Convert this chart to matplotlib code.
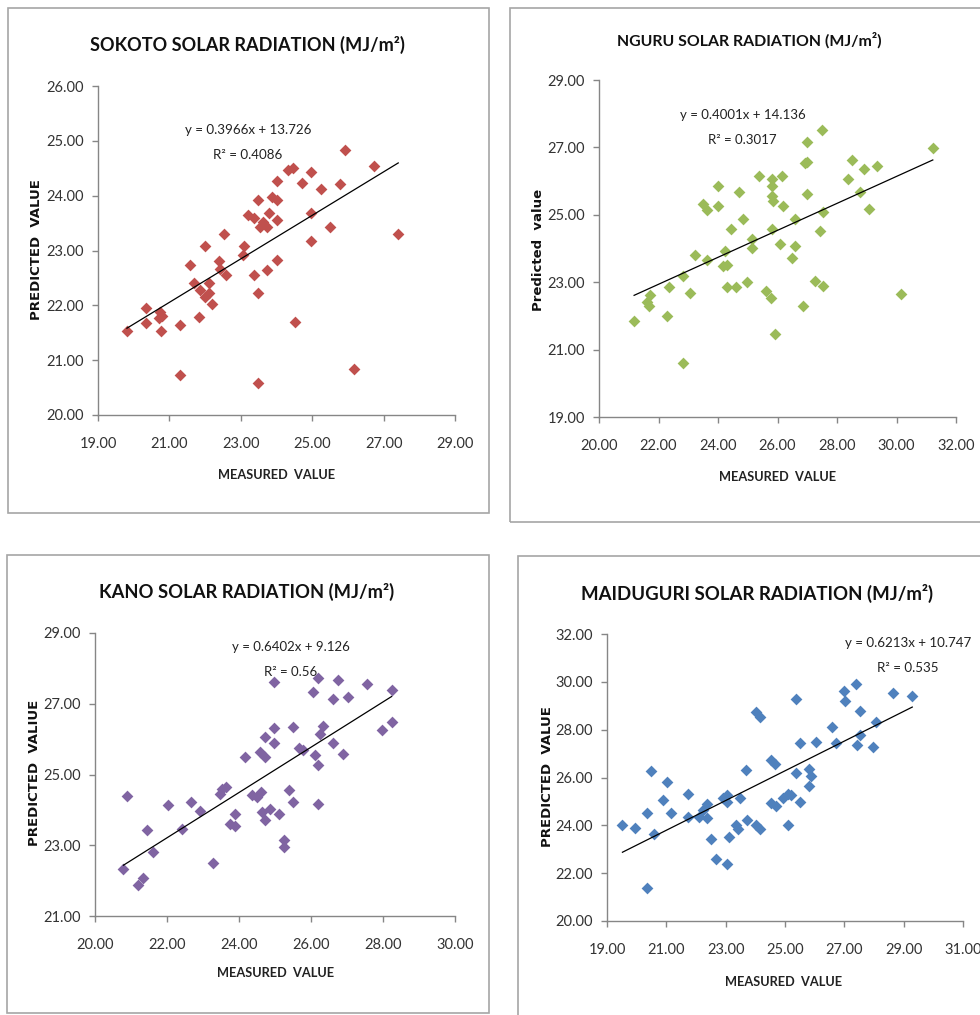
import matplotlib
matplotlib.use("Agg")
import matplotlib.pyplot as plt
import numpy as np
from matplotlib.patches import Rectangle

W, H = 980, 1015

# ===== Données =====
sokoto_x = [19.81, 20.34, 20.34, 20.74, 20.71, 20.77, 20.80, 21.30, 21.30, 21.58,
            21.83, 21.70, 21.86, 22.00, 22.00, 22.12, 22.12, 22.20, 22.40, 22.42,
            22.53, 22.58, 23.08, 23.06, 23.19, 23.36, 23.36, 23.47, 23.47, 23.47,
            23.53, 23.62, 23.73, 23.78, 23.73, 23.87, 24.00, 24.02, 24.00, 24.00,
            24.31, 24.46, 24.52, 24.71, 24.97, 24.97, 24.97, 25.24, 25.50, 25.78,
            25.92, 26.18, 26.73, 27.41]
sokoto_y = [21.53, 21.96, 21.67, 21.87, 21.76, 21.54, 21.80, 21.64, 20.73, 22.74,
            21.78, 22.40, 22.28, 23.08, 22.16, 22.40, 22.22, 22.02, 22.80, 22.67,
            23.31, 22.55, 23.08, 22.92, 23.65, 23.59, 22.55, 23.92, 22.22, 20.59,
            23.43, 23.52, 22.64, 23.68, 23.43, 23.98, 24.26, 23.92, 23.56, 22.83,
            24.47, 24.50, 21.70, 24.24, 24.44, 23.68, 23.17, 24.12, 23.42, 24.21,
            24.83, 20.83, 24.54, 23.31]

nguru_x = [21.18, 21.60, 21.71, 21.69, 22.27, 22.36, 22.81, 22.81, 23.06, 23.23,
           23.51, 23.62, 23.64, 24.01, 24.01, 24.18, 24.24, 24.29, 24.29, 24.43,
           24.61, 24.72, 24.85, 24.96, 25.13, 25.13, 25.39, 25.63, 25.77, 25.80,
           25.80, 25.80, 25.86, 25.80, 25.92, 26.08, 26.14, 26.20, 26.48, 26.59,
           26.59, 26.87, 26.92, 27.00, 27.00, 27.00, 27.26, 27.48, 27.43, 27.54,
           27.54, 28.36, 28.49, 28.77, 28.91, 29.06, 29.34, 30.14, 31.22]
nguru_y = [21.86, 22.40, 22.63, 22.30, 22.00, 22.87, 23.19, 20.60, 22.68, 23.82,
           25.33, 25.13, 23.67, 25.85, 25.25, 23.47, 23.92, 23.52, 22.87, 24.57,
           22.87, 25.67, 24.88, 23.02, 24.27, 24.02, 26.16, 22.75, 22.52, 26.05,
           25.85, 25.55, 25.40, 24.57, 21.45, 24.12, 26.16, 25.25, 23.72, 24.07,
           24.88, 22.30, 26.55, 26.58, 27.17, 25.63, 23.05, 27.52, 24.52, 25.07,
           22.89, 26.06, 26.64, 25.67, 26.35, 25.17, 26.45, 22.66, 26.97]

kano_x = [20.79, 20.90, 21.20, 21.32, 21.44, 21.60, 22.02, 22.42, 22.66, 22.92,
          23.29, 23.47, 23.52, 23.64, 23.75, 23.89, 23.89, 24.17, 24.35, 24.49,
          24.60, 24.58, 24.72, 24.72, 24.63, 24.72, 24.86, 24.98, 24.98, 24.98,
          25.12, 25.26, 25.26, 25.40, 25.51, 25.51, 25.68, 25.79, 26.06, 26.11,
          26.20, 26.20, 26.20, 26.25, 26.34, 26.60, 26.60, 26.76, 26.88, 27.04,
          27.55, 27.96, 28.24, 28.24]
kano_y = [22.34, 24.38, 21.87, 22.08, 23.44, 22.81, 24.14, 23.47, 24.22, 23.98,
          22.50, 24.46, 24.60, 24.66, 23.61, 23.54, 23.89, 25.49, 24.43, 24.36,
          24.50, 25.64, 26.06, 25.49, 23.93, 23.70, 24.03, 27.61, 26.32, 25.89,
          23.89, 23.14, 22.95, 24.55, 26.34, 24.22, 25.76, 25.68, 27.33, 25.54,
          25.26, 24.16, 27.74, 26.14, 26.38, 27.14, 25.89, 27.68, 25.58, 27.19,
          27.55, 26.27, 27.38, 26.48]

maid_x = [19.52, 19.93, 20.36, 20.36, 20.49, 20.58, 20.89, 21.03, 21.17, 21.73,
          21.73, 22.10, 22.24, 22.37, 22.37, 22.52, 22.69, 22.91, 23.04, 23.04,
          23.04, 23.11, 23.34, 23.42, 23.47, 23.70, 23.73, 24.01, 24.15, 24.01,
          24.17, 24.52, 24.65, 24.52, 24.69, 24.93, 25.10, 25.10, 25.21, 25.36,
          25.36, 25.49, 25.49, 25.81, 25.81, 25.89, 26.06, 26.57, 26.73, 26.98,
          27.01, 27.38, 27.43, 27.52, 27.52, 27.97, 28.08, 28.64, 29.29]
maid_y = [24.01, 23.90, 24.50, 21.36, 26.27, 23.63, 25.08, 25.82, 24.53, 25.30,
          24.36, 24.36, 24.64, 24.88, 24.29, 23.41, 22.61, 25.13, 25.27, 24.99,
          22.37, 23.52, 24.01, 23.83, 25.13, 26.31, 24.22, 28.72, 28.55, 24.01,
          23.83, 26.72, 26.58, 24.92, 24.81, 25.13, 25.31, 24.01, 25.27, 29.28,
          26.20, 27.43, 24.99, 26.34, 25.64, 26.06, 27.50, 28.13, 27.43, 29.60,
          29.18, 29.92, 27.36, 28.76, 27.78, 27.29, 28.34, 29.53, 29.39]

# droites de tendance (Excel)
pentes = [0.3966, 0.4001, 0.6402, 0.6213]
ordonnees = [13.726, 14.136, 9.126, 10.747]
r2 = ["0.4086", "0.3017", "0.56", "0.535"]

villes = ["SOKOTO", "NGURU", "KANO", "MAIDUGURI"]
couleurs = ["#C0504D", "#9BBB59", "#8064A2", "#4F81BD"]
ylabels = ["PREDICTED  VALUE", "Predicted  value", "PREDICTED  VALIUE", "PREDICTED  VALUE"]

x_lims = [(19, 29), (20, 32), (20, 30), (19, 31)]
y_lims = [(20, 26), (19, 29), (21, 29), (20, 32)]
y_pas = [1, 2, 2, 2]

# ===== Mise en page (pixels) =====
axes_px = [(98, 455, 86, 415), (599, 956, 80, 417), (95, 455, 633, 916), (607, 963, 634, 921)]
cadres_px = [(8, 8, 489, 513), (510, 8, 990, 522), (7, 555, 489, 1013), (518, 556, 990, 1025)]
titres_px = [(247, 45, 315), (749, 40, 265), (247, 592, 295), (757, 593, 352)]
eq_data = [(23.2, 25.20, 24.74), (24.82, 27.96, 27.22), (25.44, 28.6, 27.9), (29.15, 31.62, 30.58)]
eq_larg = [127, 125, 118, 127]
xlab_px = [(277, 475), (778, 477), (276, 973), (784, 982)]
ylab_px = [(37, 250), (538, 250), (35, 773), (547, 777)]

police = ["Lato", "DejaVu Sans"]


def fx(x):
    return x / W


def fy(y):
    return 1 - y / H


fig = plt.figure(figsize=(W / 100, H / 100), dpi=100)
renderer = fig.canvas.get_renderer()


def ajuster(txt, largeur):
    # met la taille de police pour obtenir la largeur voulue (pixels)
    bb = txt.get_window_extent(renderer)
    txt.set_fontsize(txt.get_fontsize() * largeur / bb.width)


donnees = [(sokoto_x, sokoto_y), (nguru_x, nguru_y), (kano_x, kano_y), (maid_x, maid_y)]

for i, (xs, ys) in enumerate(donnees):
    # cadre gris autour de chaque graphique
    x0, y0, x1, y1 = cadres_px[i]
    fig.patches.append(Rectangle((fx(x0), fy(y1)), (x1 - x0) / W, (y1 - y0) / H,
                                 transform=fig.transFigure, fill=False,
                                 edgecolor="#A6A6A6", linewidth=1.2))

    l, r, t, b = axes_px[i]
    ax = fig.add_axes([fx(l), fy(b), (r - l) / W, (b - t) / H])

    ax.scatter(xs, ys, marker="D", s=36, color=couleurs[i], linewidths=0, zorder=3)

    xt = np.array([min(xs), max(xs)])
    ax.plot(xt, pentes[i] * xt + ordonnees[i], color="black", linewidth=0.9, zorder=4)

    ex, ey, er = eq_data[i]
    eq = ax.text(ex, ey, f"y = {pentes[i]}x + {ordonnees[i]}", ha="center", va="center",
                 fontsize=10, family=police, color="#222222", zorder=5)
    ajuster(eq, eq_larg[i])
    ax.text(ex, er, f"R² = {r2[i]}", ha="center", va="center",
            fontsize=eq.get_fontsize(), family=police, color="#222222", zorder=5)

    ax.set_xlim(*x_lims[i])
    ax.set_ylim(*y_lims[i])
    ax.set_xticks(np.arange(x_lims[i][0], x_lims[i][1] + 0.1, 2))
    ax.set_yticks(np.arange(y_lims[i][0], y_lims[i][1] + 0.1, y_pas[i]))
    ax.xaxis.set_major_formatter(matplotlib.ticker.FormatStrFormatter("%.2f"))
    ax.yaxis.set_major_formatter(matplotlib.ticker.FormatStrFormatter("%.2f"))

    for s in ["top", "right"]:
        ax.spines[s].set_visible(False)
    for s in ["left", "bottom"]:
        ax.spines[s].set_color("#868686")
        ax.spines[s].set_linewidth(1.0)
    ax.tick_params(axis="both", direction="out", length=4, width=1, color="#868686",
                   labelcolor="#333333", labelsize=10.5)
    ax.tick_params(axis="x", pad=12)
    ax.tick_params(axis="y", pad=6)
    for lab in ax.get_xticklabels() + ax.get_yticklabels():
        lab.set_family(police)

    xl = ax.set_xlabel("MEASURED  VALUE", fontsize=10, family=police, fontweight="bold",
                       color="#222222", va="center")
    ajuster(xl, 117)
    ax.xaxis.set_label_coords(fx(xlab_px[i][0]), fy(xlab_px[i][1]), transform=fig.transFigure)
    ax.set_ylabel(ylabels[i], fontsize=9.5, family="DejaVu Sans", fontweight="bold",
                  color="#111111", va="center")
    ax.yaxis.set_label_coords(fx(ylab_px[i][0]), fy(ylab_px[i][1]), transform=fig.transFigure)

    tx, ty, tl = titres_px[i]
    ti = fig.text(fx(tx), fy(ty), f"{villes[i]} SOLAR RADIATION (MJ/m²)", ha="center",
                  va="center", fontsize=15, family=police, fontweight="bold", color="#111111")
    ajuster(ti, tl)

fig.savefig("out.png", dpi=100)
